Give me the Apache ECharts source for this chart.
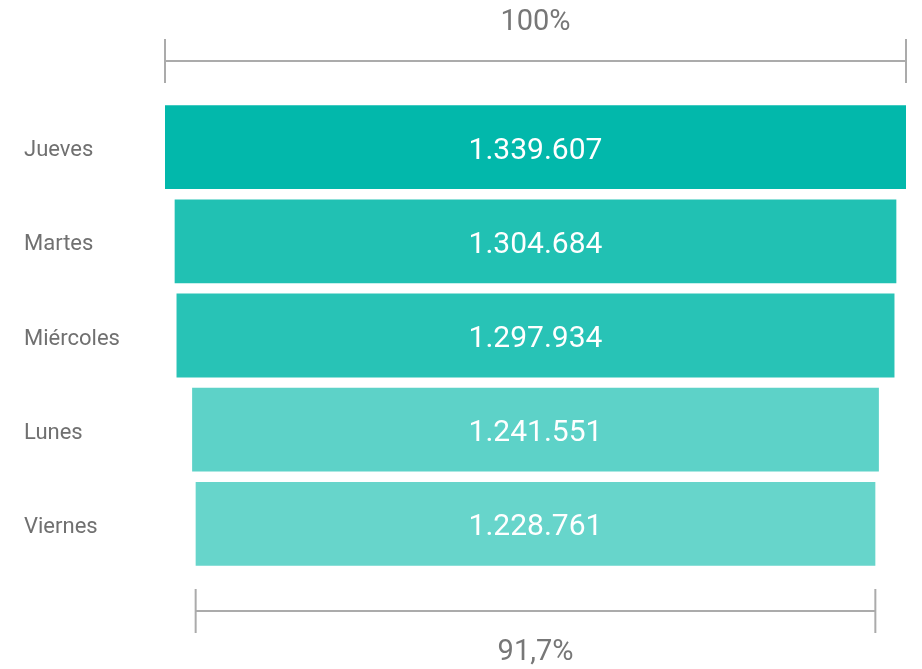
<!DOCTYPE html>
<html>
<head>
<meta charset="utf-8">
<script src="https://cdn.jsdelivr.net/npm/echarts@6/dist/echarts.min.js"></script>
<style>
  html, body { margin: 0; padding: 0; background: #fff; }
  #chart { width: 922px; height: 669px; }
</style>
</head>
<body>
<div id="chart"></div>
<script>
// Day categories, top to bottom
const days = ["Jueves", "Martes", "Miércoles", "Lunes", "Viernes"];
const values = [1339607, 1304684, 1297934, 1241551, 1228761];
const barColors = ["#02b8ab", "#21c1b3", "#28c3b6", "#5dd2c8", "#67d5cb"];

const maxVal = Math.max(...values);
const minVal = Math.min(...values);

// invisible offsets so each bar is centered
const offsets = values.map((v) => (maxVal - v) / 2);

function fmt(n) {
  return n.toString().replace(/\B(?=(\d{3})+(?!\d))/g, ".");
}

const chart = echarts.init(document.getElementById("chart"));

const option = {
  animation: false,
  textStyle: { fontFamily: "Roboto" },
  grid: { left: 165, right: 16, top: 100, bottom: 98 },
  xAxis: {
    type: "value",
    min: 0,
    max: maxVal,
    show: false,
  },
  yAxis: {
    type: "category",
    data: days,
    inverse: true,
    axisLine: { show: false },
    axisTick: { show: false },
    axisLabel: {
      align: "left",
      margin: 141,
      formatter: (v) => `{d|${v}}`,
      rich: {
        d: {
          color: "#707070",
          fontSize: 22,
          fontFamily: "Roboto",
          padding: [7, 0, 0, 0],
        },
      },
    },
  },
  series: [
    {
      type: "bar",
      stack: "f",
      data: offsets,
      itemStyle: { color: "transparent" },
      barCategoryGap: "11%",
      silent: true,
    },
    {
      type: "bar",
      stack: "f",
      data: values.map((v, i) => ({ value: v, itemStyle: { color: barColors[i] } })),
      barCategoryGap: "11%",
      label: {
        show: true,
        position: "inside",
        color: "#fff",
        fontSize: 30,
        offset: [0, 4],
        formatter: (p) => fmt(p.value),
      },
    },
  ],
};

chart.setOption(option);

// brackets above and below, placed from the axis scale
function bracket(x0, x1, yLine, tickHalf, text, yText) {
  const p0 = chart.convertToPixel({ xAxisIndex: 0 }, x0);
  const p1 = chart.convertToPixel({ xAxisIndex: 0 }, x1);
  const ls = { stroke: "#ababab", lineWidth: 2 };
  return [
    { type: "line", shape: { x1: p0, y1: yLine, x2: p1, y2: yLine }, style: ls },
    { type: "line", shape: { x1: p0, y1: yLine - tickHalf, x2: p0, y2: yLine + tickHalf }, style: ls },
    { type: "line", shape: { x1: p1, y1: yLine - tickHalf, x2: p1, y2: yLine + tickHalf }, style: ls },
    {
      type: "text",
      x: (p0 + p1) / 2,
      y: yText,
      style: {
        text: text,
        fill: "#777777",
        font: "29px Roboto",
        align: "center",
        verticalAlign: "middle",
      },
    },
  ];
}

const minOffset = (maxVal - minVal) / 2;
const pct = ((minVal / maxVal) * 100).toFixed(1).replace(".", ",") + "%";

chart.setOption({
  graphic: [
    ...bracket(0, maxVal, 61, 22, "100%", 23),
    ...bracket(minOffset, minOffset + minVal, 611, 22, pct, 653),
  ],
});
</script>
</body>
</html>
